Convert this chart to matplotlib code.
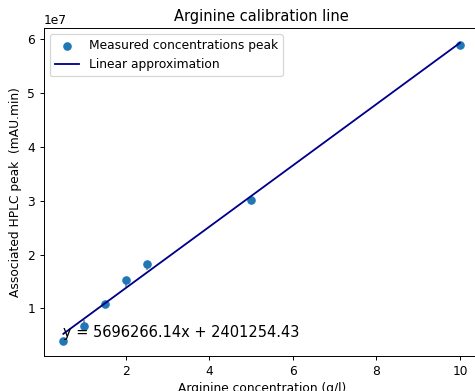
import matplotlib.pyplot as plt
import numpy as np

# Datos de calibración
concentrations = np.array([0.5, 1.0, 1.5, 2.0, 2.5, 5.0, 10.0])
peaks = np.array([3.9e6, 6.64e6, 1.088e7, 1.52e7, 1.817e7, 3.015e7, 5.89e7])
err_low = np.array([0.0, 0.0, 0.0, 1.3e6, 1.1e6, 0.0, 0.0])
err_high = np.array([0.0, 1.2e6, 0.0, 0.0, 0.0, 0.0, 0.0])

slope = 5696266.14
intercept = 2401254.43

dpi = 88
fig = plt.figure(figsize=(475 / dpi, 391 / dpi), dpi=dpi)
ax = fig.add_axes([0.0916, 0.0895, 0.9185, 0.839])

# Barras de error y puntos medidos
ax.errorbar(concentrations, peaks, yerr=[err_low, err_high], fmt='none',
            ecolor='gray', elinewidth=1.3, zorder=1)
ax.scatter(concentrations, peaks, label='Measured concentrations peak', zorder=2)

# Recta de ajuste
x_fit = np.linspace(concentrations.min(), concentrations.max(), 100)
ax.plot(x_fit, slope * x_fit + intercept, color='darkblue',
        label='Linear approximation', zorder=3)

ax.text(0.5, 4.6e6, f'y = {slope:.2f}x + {intercept:.2f}', fontsize=12)

ax.set_title('Arginine calibration line')
ax.set_xlabel('Arginine concentration (g/l)')
ax.set_ylabel('Associated HPLC peak  (mAU.min)')
ax.legend(loc='upper left')

fig.savefig('out.png', dpi=dpi)
